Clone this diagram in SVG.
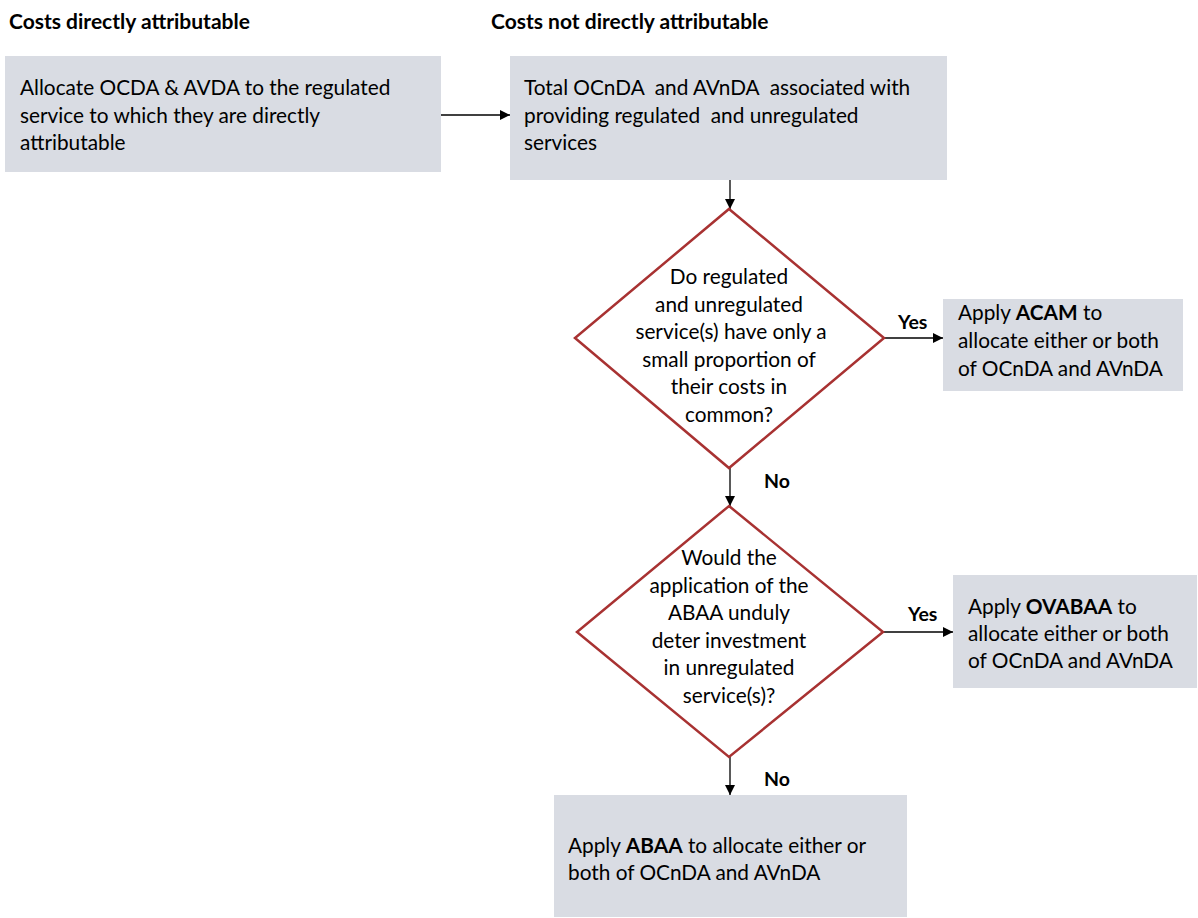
<svg xmlns="http://www.w3.org/2000/svg" width="1198" height="918" viewBox="0 0 1198 918">
<defs>
<marker id="arr" viewBox="0 0 10 10" refX="10" refY="5" markerWidth="10" markerHeight="10" markerUnits="userSpaceOnUse" orient="auto">
<path d="M0,0 L10,5 L0,10 z" fill="#000"/>
</marker>
<style>
.box{fill:#d9dce3;stroke:none}
.dia{fill:#fff;stroke:#a83232;stroke-width:2.5}
.t{font-family:Lato,"Liberation Sans",sans-serif;font-size:20.8px;fill:#000}
.h{font-family:Lato,"Liberation Sans",sans-serif;font-size:21px;font-weight:bold;fill:#000}
.y{font-family:Lato,"Liberation Sans",sans-serif;font-size:19.5px;font-weight:bold;fill:#000}
.c{text-anchor:middle}
.b{font-weight:bold}
.con{stroke:#000;stroke-width:1.3;fill:none;marker-end:url(#arr)}
</style>
</defs>
<rect width="1198" height="918" fill="#fff"/>
<text class="h" x="9" y="29">Costs directly attributable</text>
<text class="h" x="491" y="29">Costs not directly attributable</text>

<g id="connectors">
<line class="con" x1="441" y1="115" x2="510" y2="115"/>
<line class="con" x1="730" y1="180" x2="730" y2="209"/>
<line class="con" x1="884" y1="338" x2="943" y2="338"/>
<line class="con" x1="730" y1="468" x2="730" y2="506"/>
<line class="con" x1="883" y1="632" x2="953" y2="632"/>
<line class="con" x1="730" y1="757" x2="730" y2="795"/>
<text class="y" x="898" y="329">Yes</text>
<text class="y" x="764" y="488">No</text>
<text class="y" x="908" y="621">Yes</text>
<text class="y" x="764" y="786">No</text>
</g>

<g id="n1">
<rect class="box" x="5" y="56" width="436" height="116"/>
<text class="t" x="20" y="95">Allocate OCDA &amp; AVDA to the regulated</text>
<text class="t" x="20" y="123">service to which they are directly</text>
<text class="t" x="20" y="150">attributable</text>
</g>

<g id="n2">
<rect class="box" x="510" y="56" width="437" height="124"/>
<text class="t" x="524" y="95">Total OCnDA&#160; and AVnDA&#160; associated with</text>
<text class="t" x="524" y="123">providing regulated&#160; and unregulated</text>
<text class="t" x="524" y="150">services</text>
</g>

<g id="d1">
<polygon class="dia" points="729,209 884,338 729,468 575,338"/>
<text class="t c" x="729" y="284">Do regulated</text>
<text class="t c" x="729" y="312">and unregulated</text>
<text class="t c" x="731" y="339">service(s) have only a</text>
<text class="t c" x="729" y="367">small proportion of</text>
<text class="t c" x="729" y="394">their costs in</text>
<text class="t c" x="729" y="422">common?</text>
</g>

<g id="n3">
<rect class="box" x="943" y="299" width="240" height="92"/>
<text class="t" x="958" y="320">Apply <tspan class="b">ACAM</tspan> to</text>
<text class="t" x="958" y="348">allocate either or both</text>
<text class="t" x="958" y="376">of OCnDA and AVnDA</text>
</g>

<g id="d2">
<polygon class="dia" points="729,506 883,632 729,757 577,632"/>
<text class="t c" x="729" y="565">Would the</text>
<text class="t c" x="729" y="593">application of the</text>
<text class="t c" x="729" y="620">ABAA unduly</text>
<text class="t c" x="729" y="648">deter investment</text>
<text class="t c" x="729" y="675">in unregulated</text>
<text class="t c" x="729" y="703">service(s)?</text>
</g>

<g id="n4">
<rect class="box" x="953" y="575" width="244" height="113"/>
<text class="t" x="968" y="614">Apply <tspan class="b">OVABAA</tspan> to</text>
<text class="t" x="968" y="641">allocate either or both</text>
<text class="t" x="968" y="668">of OCnDA and AVnDA</text>
</g>

<g id="n5">
<rect class="box" x="554" y="795" width="353" height="122"/>
<text class="t" x="568" y="853">Apply <tspan class="b">ABAA</tspan> to allocate either or</text>
<text class="t" x="568" y="880">both of OCnDA and AVnDA</text>
</g>
</svg>
